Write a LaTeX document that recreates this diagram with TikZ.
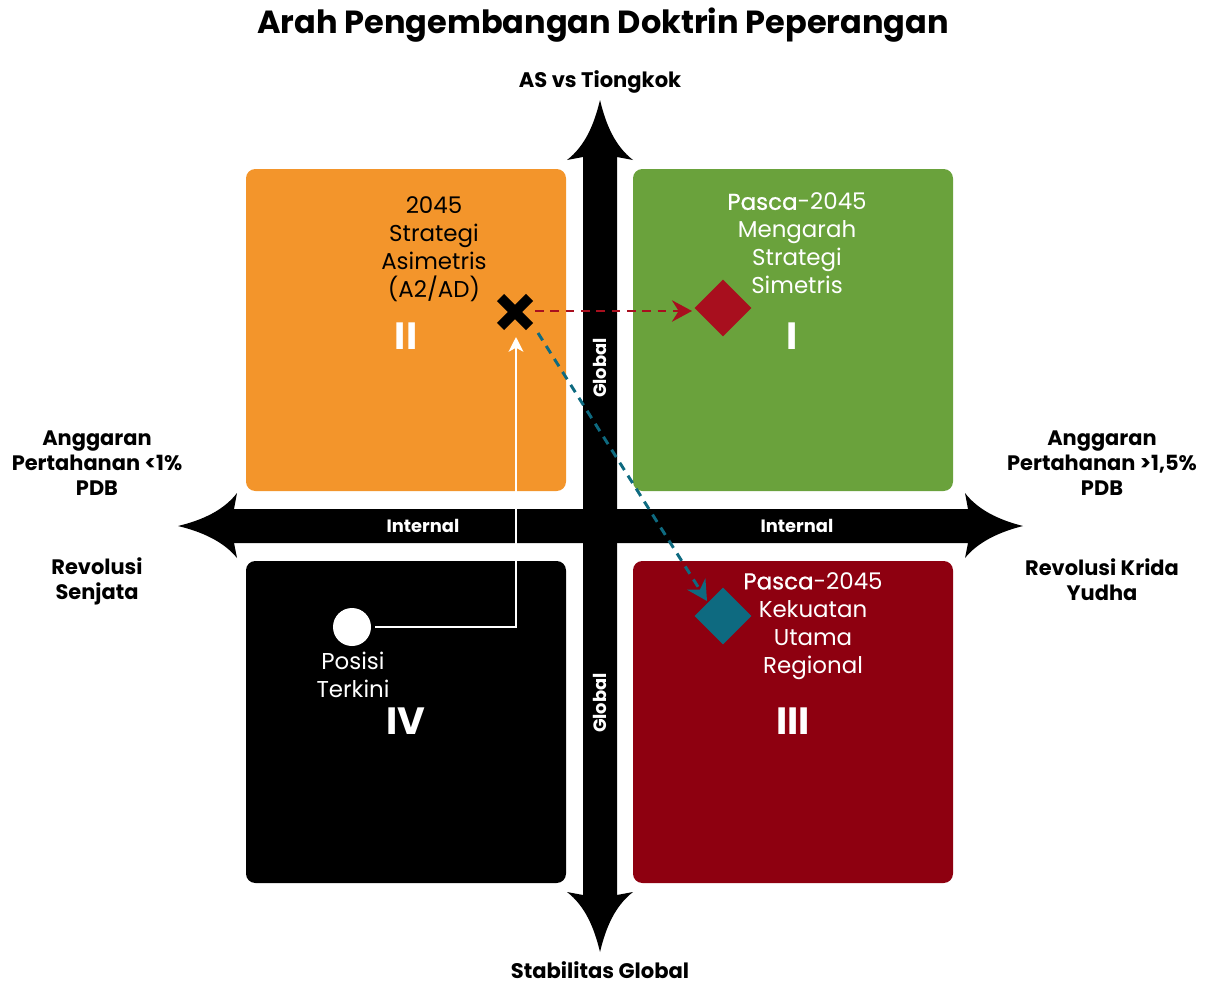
\documentclass[tikz,border=0pt]{standalone}
\usepackage{fontspec}
\setmainfont{Poppins}
\newfontfamily\medfont[FakeBold=0.8]{Poppins}
\usetikzlibrary{arrows.meta}
\definecolor{qorange}{HTML}{F3952B}
\definecolor{qgreen}{HTML}{6AA23C}
\definecolor{qred}{HTML}{8E0010}
\definecolor{mred}{HTML}{A80F1E}
\definecolor{mteal}{HTML}{0E6A80}
\begin{document}
\begin{tikzpicture}[x=0.75pt,y=-0.75pt,
  quad/.style={rounded corners=7pt},
  boxtxt/.style={align=center,inner sep=0pt,font=\fontsize{17.2}{21}\selectfont},
  sidetxt/.style={align=center,inner sep=0pt,font=\fontsize{15.7}{18.75}\selectfont\bfseries},
  axtxt/.style={inner sep=0pt,font=\fontsize{15.8}{18}\selectfont\bfseries},
  bartxt/.style={inner sep=0pt,text=white,font=\fontsize{13.4}{15}\selectfont\bfseries},
  roman/.style={inner sep=0pt,text=white,font=\fontsize{28.5}{32}\selectfont\bfseries},
  dia/.style={draw=none,minimum size=30pt,inner sep=0pt,rotate=45,shape=rectangle},
  dashline/.style={line width=2.2pt,dash pattern=on 6.5pt off 5pt,-{Stealth[length=15pt,width=16pt,inset=5pt]}}
]
\useasboundingbox (0,0) rectangle (1207,985);
% quadrants
\fill[qorange,quad] (246,169) rectangle (566,491);
\fill[qgreen,quad] (633,169) rectangle (953,491);
\fill[black,quad] (246,561) rectangle (566,883);
\fill[qred,quad] (633,561) rectangle (953,883);
% vertical axis
\fill[black] (600,100) .. controls (594,125) and (585,146) .. (567,160) -- (583,157)
  -- (583,895) -- (567,892) .. controls (585,906) and (594,927) .. (600,952)
  .. controls (606,927) and (615,906) .. (633,892) -- (617,895) -- (617,157) -- (633,160)
  .. controls (615,146) and (606,125) .. (600,100) -- cycle;
% horizontal axis
\fill[black] (178,526) .. controls (203,520) and (224,510) .. (237,493) -- (234,509)
  -- (968,509) -- (965,493) .. controls (978,510) and (999,520) .. (1023,526)
  .. controls (999,532) and (978,542) .. (965,558) -- (968,543) -- (234,543) -- (237,558)
  .. controls (224,542) and (203,532) .. (178,526) -- cycle;
% title and axis labels
\node[inner sep=0pt,font=\fontsize{24}{28}\selectfont\bfseries] (title) at (603,25) {Arah Pengembangan Doktrin Peperangan};
\node[axtxt] (top) at (600,82) {AS vs Tiongkok};
\node[axtxt] (bottom) at (600,970) {Stabilitas Global};
\node[sidetxt] (lefta) at (97,463) {Anggaran\\Pertahanan <1\%\\PDB};
\node[sidetxt] (leftb) at (97,581) {Revolusi\\Senjata};
\node[sidetxt] (righta) at (1102,463) {Anggaran\\Pertahanan >1,5\%\\PDB};
\node[sidetxt] (rightb) at (1102,580) {Revolusi Krida\\Yudha};
\node[bartxt] (intl) at (423,526) {Internal};
\node[bartxt] (intr) at (797,526) {Internal};
\node[bartxt,rotate=90] (globt) at (600,368) {Global};
\node[bartxt,rotate=90] (globb) at (600,703) {Global};
% quadrant texts
\node[boxtxt,text=black] (t2) at (434,249) {2045\\Strategi\\Asimetris\\(A2/AD)};
\node[boxtxt,text=white] (t1) at (797,243.5) {{\medfont Pasca}-2045\\Mengarah\\Strategi\\Simetris};
\node[boxtxt,text=white] (t3) at (813,626) {{\medfont Pasca}-2045\\Kekuatan\\Utama\\Regional};
\node[boxtxt,text=white] (t4) at (353,675) {Posisi\\Terkini};
\node[roman] (r2) at (406,336) {II};
\node[roman] (r1) at (792,336) {I};
\node[roman] (r3) at (793,721) {III};
\node[roman] (r4) at (406,721) {IV};
% markers
\coordinate (x) at (515,312);
\draw[black,line width=7.5pt] (500.5,297.5) -- (529.5,326.5) (529.5,297.5) -- (500.5,326.5);
\node[dia,fill=mred] (dred) at (723,308) {};
\node[dia,fill=mteal] (dteal) at (723,616) {};
\node[circle,fill=white,minimum size=28.5pt,inner sep=0pt] (now) at (352,627) {};
% connectors
\coordinate (redstart) at (535,311);
\coordinate (redend) at (692,311);
\draw[mred,dashline] (redstart) -- (redend);
\coordinate (tealstart) at (538,333);
\coordinate (tealend) at (707,601);
\draw[mteal,dashline] (tealstart) -- (tealend);
\coordinate (bend) at (516,627);
\coordinate (wend) at (516,337);
\draw[white,line width=2.2pt,-{Stealth[length=11pt,width=11pt,inset=3pt]}] (now.east) ++(4,0) -- (bend) -- (wend);
\end{tikzpicture}
\end{document}
